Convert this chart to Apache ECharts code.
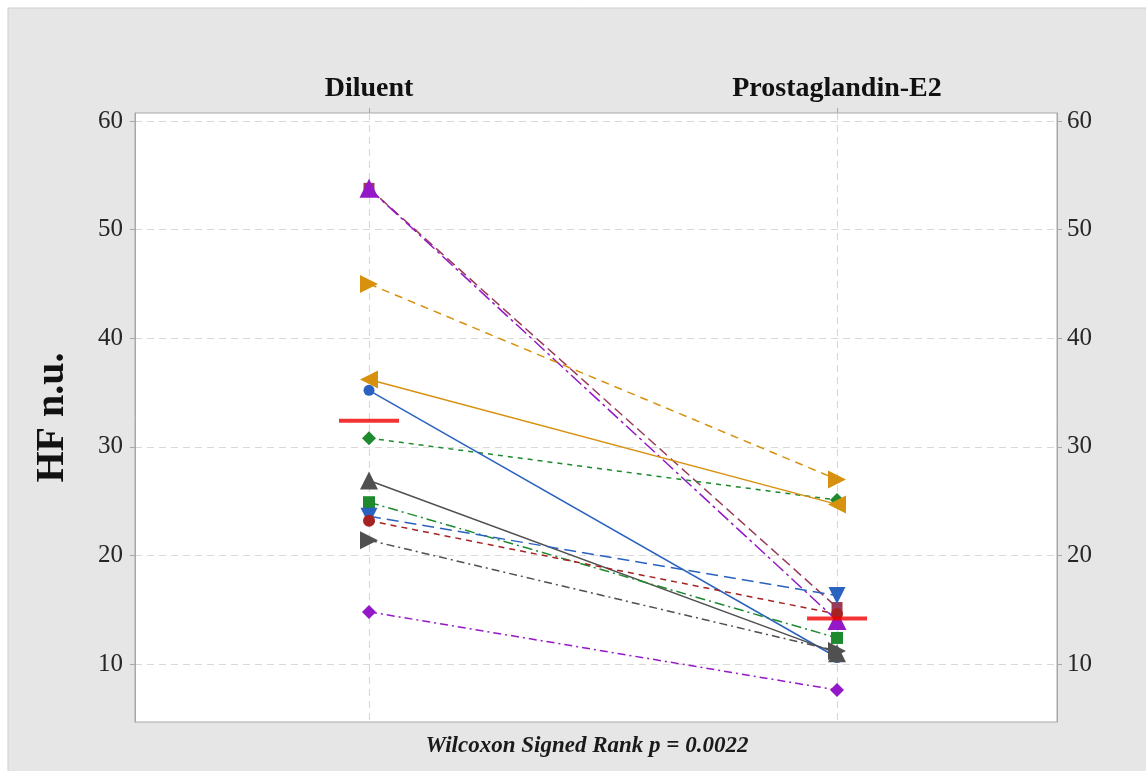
<!DOCTYPE html>
<html>
<head>
<meta charset="utf-8">
<script src="https://cdn.jsdelivr.net/npm/echarts@6/dist/echarts.min.js"></script>
<style>
  html, body { margin: 0; padding: 0; background: #ffffff; }
  #chart { width: 1146px; height: 771px; }
</style>
</head>
<body>
<div id="chart"></div>
<script>
// Paired HF n.u. values per subject, diluent vs prostaglandin-E2
const categories = ['Diluent', 'Prostaglandin-E2'];
const diluent = [53.8, 53.8, 45.0, 30.8, 36.2, 35.2, 26.9, 24.9, 23.6, 23.2, 21.4, 14.8];
const pge2    = [15.2, 14.0, 27.0, 25.1, 24.7, 10.6, 11.0, 12.4, 16.3, 14.6, 11.2, 7.6];
const groupMeans = [32.4, 14.2];
const yTicks = [10, 20, 30, 40, 50, 60];
const stat = 'Wilcoxon Signed Rank p = 0.0022';

// per-subject appearance
const colors  = ['#9a3c58', '#9417c8', '#d8900f', '#1d8a2e', '#d8900f', '#2a62c0', '#505050', '#1d8a2e', '#2a62c0', '#a62222', '#505050', '#9417c8'];
const symbols = ['rect', 'triangle', 'triangle', 'diamond', 'triangle', 'circle', 'triangle', 'rect', 'triangle', 'circle', 'triangle', 'diamond'];
const rotations = [0, 0, -90, 0, 90, 0, 0, 0, 180, 0, -90, 0];
const sizes   = [11, 19, 18, 14, 18, 11, 18, 12, 17, 12, 18, 14];
const dashes  = [[10, 5], [14, 4, 3, 4], [8, 6], [5, 5], 'solid', 'solid', 'solid', [10, 4, 2, 4], [12, 6], [6, 5], [8, 4, 2, 4], [8, 4, 2, 4]];

const serif = '"Liberation Serif", "DejaVu Serif", serif';

const series = diluent.map((d, i) => ({
  type: 'line',
  data: [[0, d], [1, pge2[i]]],
  symbol: symbols[i],
  symbolRotate: rotations[i],
  symbolSize: sizes[i],
  showSymbol: true,
  itemStyle: { color: colors[i], opacity: 1 },
  lineStyle: { color: colors[i], width: 1.5, type: dashes[i] },
  emphasis: { disabled: true },
  animation: false,
  z: 2
}));

// group mean bars
series.push({
  type: 'scatter',
  data: groupMeans.map((m, i) => [i, m]),
  symbol: 'rect',
  symbolSize: [60, 4],
  itemStyle: { color: '#f00000' },
  emphasis: { disabled: true },
  animation: false,
  z: 5
});

const chart = echarts.init(document.getElementById('chart'), null, { renderer: 'canvas' });
chart.setOption({
  backgroundColor: '#ffffff',
  animation: false,
  graphic: [
    {
      type: 'rect',
      shape: { x: 8, y: 8, width: 1146, height: 771 },
      style: { fill: '#e6e6e6', stroke: '#cfcfcf', lineWidth: 1 },
      z: -10,
      silent: true
    },
    {
      type: 'text',
      x: 587,
      y: 746,
      style: {
        text: stat,
        font: 'italic bold 23px ' + serif,
        fill: '#1a1a1a',
        align: 'center',
        verticalAlign: 'middle'
      }
    }
  ],
  grid: {
    left: 135, right: 89, top: 113, bottom: 49,
    show: true,
    backgroundColor: '#ffffff',
    borderColor: '#a8a8a8',
    borderWidth: 1
  },
  xAxis: {
    type: 'value',
    position: 'top',
    min: -0.5,
    max: 1.47,
    axisLine: { show: false },
    axisTick: { show: true, customValues: [0, 1], length: 5, lineStyle: { color: '#a8a8a8' } },
    axisLabel: {
      customValues: [0, 1],
      formatter: v => categories[Math.round(v)] || '',
      fontFamily: serif, fontWeight: 'bold', fontSize: 28, color: '#111', margin: 10
    },
    splitLine: { show: true, lineStyle: { color: '#d9d9d9', type: [7, 5], width: 1.2 } }
  },
  yAxis: [
    {
      type: 'value',
      position: 'left',
      min: 4.66,
      max: 60.74,
      name: 'HF n.u.',
      nameLocation: 'middle',
      nameGap: 62,
      nameTextStyle: { fontFamily: serif, fontWeight: 'bold', fontSize: 40, color: '#111' },
      axisLine: { show: true, onZero: false, lineStyle: { color: '#a8a8a8' } },
      axisTick: { show: true, customValues: yTicks, length: 5, lineStyle: { color: '#a8a8a8' } },
      axisLabel: { customValues: yTicks, fontFamily: serif, fontSize: 25, color: '#262626', margin: 12 },
      splitLine: { show: true, lineStyle: { color: '#d9d9d9', type: [7, 5], width: 1.2 } }
    },
    {
      type: 'value',
      position: 'right',
      min: 4.66,
      max: 60.74,
      axisLine: { show: true, onZero: false, lineStyle: { color: '#a8a8a8' } },
      axisTick: { show: true, customValues: yTicks, length: 5, lineStyle: { color: '#a8a8a8' } },
      axisLabel: { customValues: yTicks, fontFamily: serif, fontSize: 25, color: '#262626', margin: 10 },
      splitLine: { show: false }
    }
  ],
  series: series
});
</script>
</body>
</html>
